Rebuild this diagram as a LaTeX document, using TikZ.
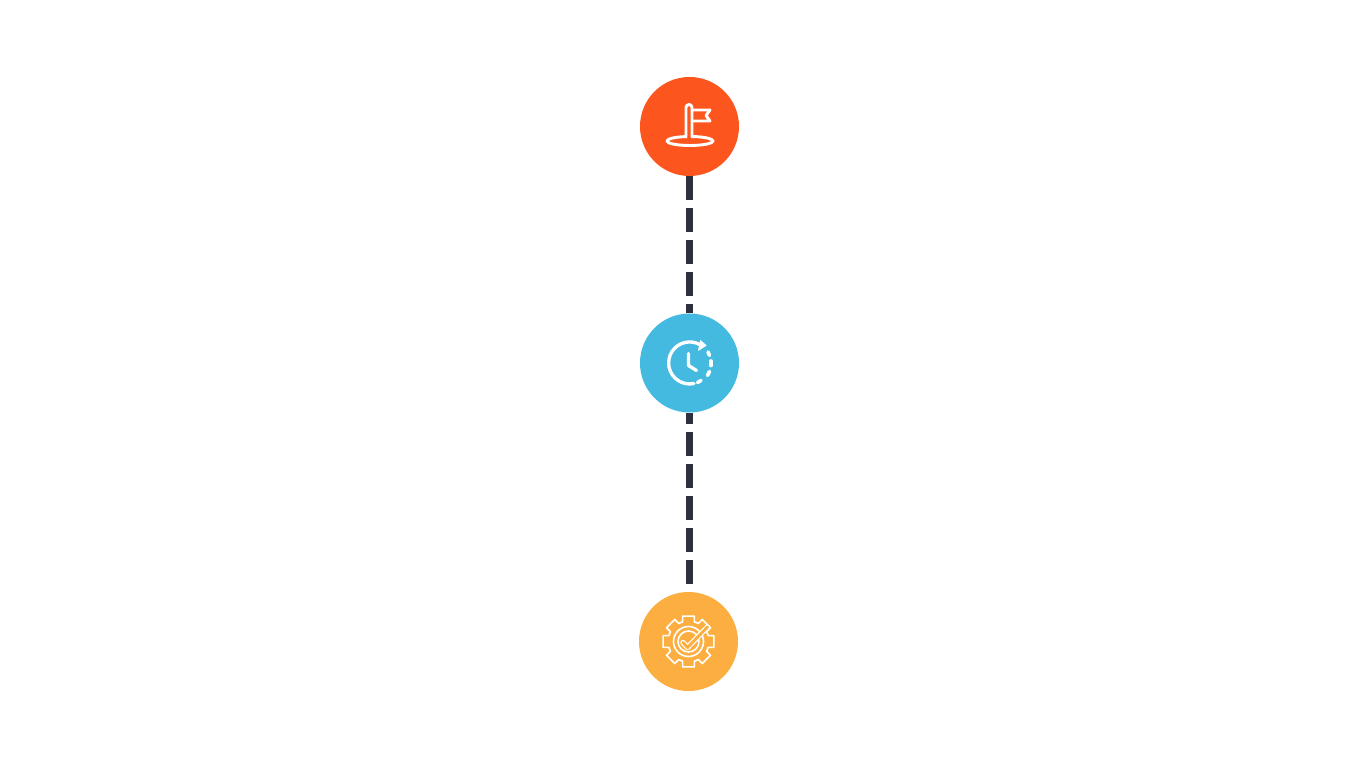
\documentclass[tikz,border=0pt]{standalone}
\definecolor{flagorange}{HTML}{FC551E}
\definecolor{clockblue}{HTML}{44BAE0}
\definecolor{gearyellow}{HTML}{FCAF40}
\definecolor{dashdark}{HTML}{2F303D}
\tikzset{
  x=0.75pt,y=0.75pt,
  stepdisc/.style={circle,draw=none,inner sep=0pt,minimum size=74.25pt},
  link/.style={draw=dashdark,line width=5.7pt,dash pattern=on 18pt off 6pt},
  icon/.style={draw=white,line width=2.2pt,line cap=round,line join=round},
  clockline/.style={draw=white,line width=2.5pt,line cap=round,line join=round},
  clockdash/.style={draw=white,line width=2.7pt,line cap=round},
  thinicon/.style={draw=white,line width=1.2pt,line cap=round,line join=round},
}
\begin{document}
\begin{tikzpicture}
\useasboundingbox (0,0) rectangle (1366,768);
\fill[white] (0,0) rectangle (1366,768);
% discs
\node[stepdisc,fill=flagorange] (goal) at (689.5,641.5) {};
\node[stepdisc,fill=clockblue] (time) at (689.5,405) {};
\node[stepdisc,fill=gearyellow] (done) at (688.5,126.5) {};
\coordinate (linkend) at (689.5,184);
% connectors
\draw[link] (goal.south) -- (time.north);
\draw[link,dash phase=9.4pt] (time.south) -- (linkend);
% flag icon
\begin{scope}[shift={(goal.center)}]
  \draw[icon] (0.5,-14.5) ellipse [x radius=23,y radius=4.5];
  \fill[flagorange] (-2.2,-11.5) rectangle (1.2,-8);
  \draw[icon] (-3.5,-10.5) -- (-3.5,19) arc[start angle=180,end angle=0,radius=3] -- (2.5,-10.5);
  \draw[icon] (2.5,16.5) -- (20.5,16.5) -- (16.5,11) -- (20.5,5.5) -- (2.5,5.5);
\end{scope}
% clock icon
\begin{scope}[shift={(time.center)}]
  \draw[clockline] (4.5,-20.5) arc[start angle=-78,end angle=-298,radius=21];
  \fill[white,draw=white,line width=0.6pt,line join=round] (11,22.5) -- (16.5,17.5) -- (9,12.7) -- cycle;
  \draw[clockline] (-1,9.5) -- (-1,-2.5) -- (7,-7.5);
  \draw[clockdash] (18.5,11) -- (20,7.5);
  \draw[clockdash] (21.5,2) -- (21.5,-2.5);
  \draw[clockdash] (20,-8.5) -- (18,-12.5);
  \draw[clockdash] (11.5,-17.5) -- (8,-19.5);
\end{scope}
% gear icon
\begin{scope}[shift={(done.center)}]
  \foreach \a in {0,45,...,315}{
    \draw[thinicon] (\a-22.5:20.5) arc[start angle=\a-22.5,end angle=\a-16.5,radius=20.5]
      -- (\a-13:26) -- (\a+13:26) -- (\a+16.5:20.5)
      arc[start angle=\a+16.5,end angle=\a+22.5,radius=20.5];
  }
  \draw[thinicon] (0,0) circle[radius=15];
  \draw[thinicon] (0,0) circle[radius=10.5];
  \draw[draw=white,line width=4pt,line cap=round,line join=round] (-5.5,-1) -- (-1,-6) -- (19,14.5);
  \draw[draw=gearyellow,line width=2.2pt,line cap=round,line join=round] (-5.5,-1) -- (-1,-6) -- (19,14.5);
\end{scope}
\end{tikzpicture}
\end{document}
